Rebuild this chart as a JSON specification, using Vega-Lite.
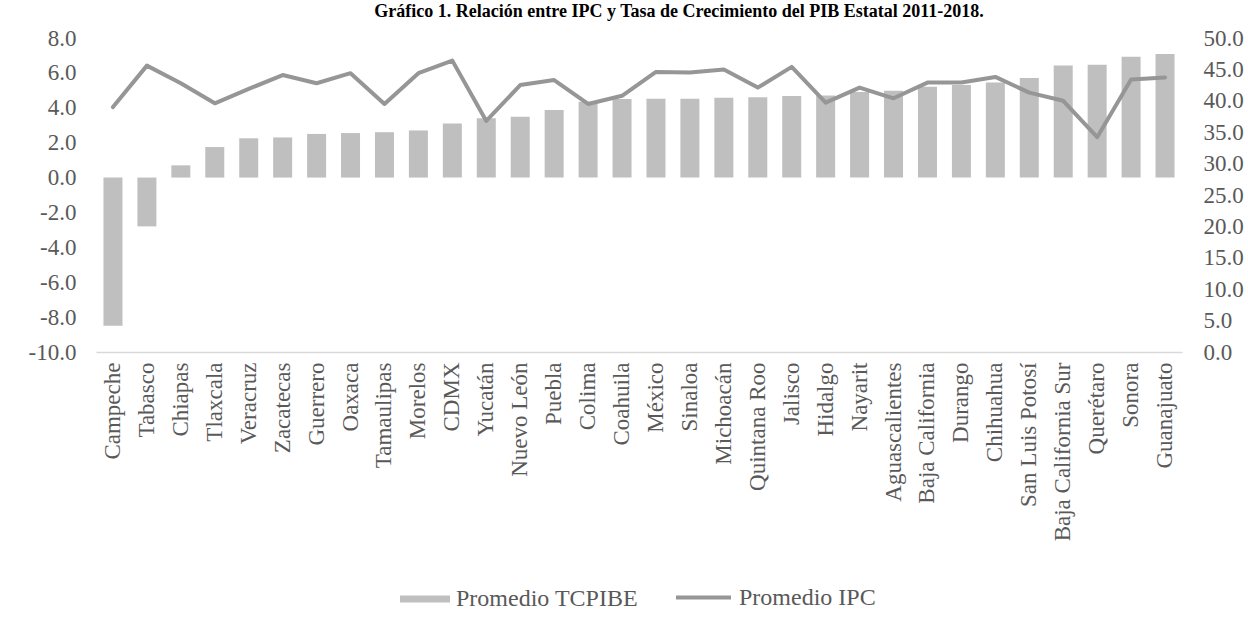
{
  "$schema": "https://vega.github.io/schema/vega-lite/v6.json",
  "width": 1086,
  "height": 314,
  "autosize": {"type": "none"},
  "padding": {"left": 96, "top": 38, "right": 66, "bottom": 275},
  "background": "white",
  "title": {
    "text": "Gráfico 1. Relación entre IPC y Tasa de Crecimiento del PIB Estatal 2011-2018.",
    "font": "Liberation Serif",
    "fontSize": 18,
    "fontWeight": "bold",
    "color": "#000000",
    "anchor": "middle",
    "dx": 40,
    "offset": 6
  },
  "data": {
    "values": [
      {"estado": "Campeche", "tcpibe": -8.5, "ipc": 39.0},
      {"estado": "Tabasco", "tcpibe": -2.8, "ipc": 45.6},
      {"estado": "Chiapas", "tcpibe": 0.7, "ipc": 42.8},
      {"estado": "Tlaxcala", "tcpibe": 1.75, "ipc": 39.6},
      {"estado": "Veracruz", "tcpibe": 2.25, "ipc": 41.9},
      {"estado": "Zacatecas", "tcpibe": 2.3, "ipc": 44.1},
      {"estado": "Guerrero", "tcpibe": 2.5, "ipc": 42.8},
      {"estado": "Oaxaca", "tcpibe": 2.55, "ipc": 44.4},
      {"estado": "Tamaulipas", "tcpibe": 2.6, "ipc": 39.5},
      {"estado": "Morelos", "tcpibe": 2.7, "ipc": 44.4},
      {"estado": "CDMX", "tcpibe": 3.1, "ipc": 46.4},
      {"estado": "Yucatán", "tcpibe": 3.4, "ipc": 36.8},
      {"estado": "Nuevo León", "tcpibe": 3.48, "ipc": 42.5},
      {"estado": "Puebla", "tcpibe": 3.87, "ipc": 43.3},
      {"estado": "Colima", "tcpibe": 4.35, "ipc": 39.5},
      {"estado": "Coahuila", "tcpibe": 4.5, "ipc": 40.8},
      {"estado": "México", "tcpibe": 4.52, "ipc": 44.6},
      {"estado": "Sinaloa", "tcpibe": 4.52, "ipc": 44.5},
      {"estado": "Michoacán", "tcpibe": 4.58, "ipc": 45.0},
      {"estado": "Quintana Roo", "tcpibe": 4.6, "ipc": 42.1},
      {"estado": "Jalisco", "tcpibe": 4.67, "ipc": 45.4},
      {"estado": "Hidalgo", "tcpibe": 4.71, "ipc": 39.7},
      {"estado": "Nayarit", "tcpibe": 4.9, "ipc": 42.1},
      {"estado": "Aguascalientes", "tcpibe": 4.98, "ipc": 40.4},
      {"estado": "Baja California", "tcpibe": 5.2, "ipc": 42.9},
      {"estado": "Durango", "tcpibe": 5.3, "ipc": 42.9},
      {"estado": "Chihuahua", "tcpibe": 5.45, "ipc": 43.8},
      {"estado": "San Luis Potosí", "tcpibe": 5.7, "ipc": 41.3},
      {"estado": "Baja California Sur", "tcpibe": 6.43, "ipc": 40.0},
      {"estado": "Querétaro", "tcpibe": 6.47, "ipc": 34.2},
      {"estado": "Sonora", "tcpibe": 6.93, "ipc": 43.4},
      {"estado": "Guanajuato", "tcpibe": 7.08, "ipc": 43.7}
    ]
  },
  "encoding": {
    "x": {
      "field": "estado",
      "type": "nominal",
      "sort": null,
      "scale": {"paddingInner": 0.44, "paddingOuter": 0.22},
      "axis": {
        "title": null,
        "labelAngle": -90,
        "labelFont": "Liberation Serif",
        "labelFontSize": 23,
        "labelColor": "#595959",
        "labelPadding": 10,
        "ticks": false,
        "domainColor": "#d9d9d9",
        "domainWidth": 1.5,
        "labelLimit": 400
      }
    }
  },
  "layer": [
    {
      "mark": {"type": "bar"},
      "encoding": {
        "y": {
          "field": "tcpibe",
          "type": "quantitative",
          "scale": {"domain": [-10, 8], "nice": false, "zero": false},
          "axis": {
            "title": null,
            "values": [-10, -8, -6, -4, -2, 0, 2, 4, 6, 8],
            "labelExpr": "replace(format(datum.value, '.1f'), '\u2212', '-')",
            "domain": false,
            "ticks": false,
            "grid": false,
            "labelFont": "Liberation Serif",
            "labelFontSize": 23,
            "labelColor": "#595959",
            "labelPadding": 20
          }
        },
        "fill": {
          "datum": "Promedio TCPIBE",
          "scale": {"range": ["#bfbfbf"]},
          "legend": {
            "title": null,
            "orient": "none",
            "legendX": 304,
            "legendY": 536,
            "symbolType": "M-1,-0.14H1V0.14H-1Z",
            "symbolSize": 2500,
            "symbolStrokeWidth": 0,
            "labelFont": "Liberation Serif",
            "labelFontSize": 24,
            "labelColor": "#595959",
            "labelOffset": 6,
            "labelLimit": 400
          }
        }
      }
    },
    {
      "mark": {"type": "line", "strokeWidth": 4, "strokeCap": "round", "strokeJoin": "round"},
      "encoding": {
        "y": {
          "field": "ipc",
          "type": "quantitative",
          "scale": {"domain": [0, 50], "nice": false},
          "axis": {
            "title": null,
            "orient": "right",
            "values": [0, 5, 10, 15, 20, 25, 30, 35, 40, 45, 50],
            "format": ".1f",
            "domain": false,
            "ticks": false,
            "grid": false,
            "labelFont": "Liberation Serif",
            "labelFontSize": 23,
            "labelColor": "#595959",
            "labelPadding": 21
          }
        },
        "stroke": {
          "datum": "Promedio IPC",
          "scale": {"range": ["#969696"]},
          "legend": {
            "title": null,
            "orient": "none",
            "legendX": 578,
            "legendY": 530,
            "symbolType": "stroke",
            "symbolSize": 3025,
            "symbolStrokeWidth": 4,
            "labelFont": "Liberation Serif",
            "labelFontSize": 24,
            "labelColor": "#595959",
            "labelOffset": 6,
            "labelLimit": 400
          }
        }
      }
    }
  ],
  "resolve": {"scale": {"y": "independent"}},
  "config": {"view": {"stroke": null}}
}
